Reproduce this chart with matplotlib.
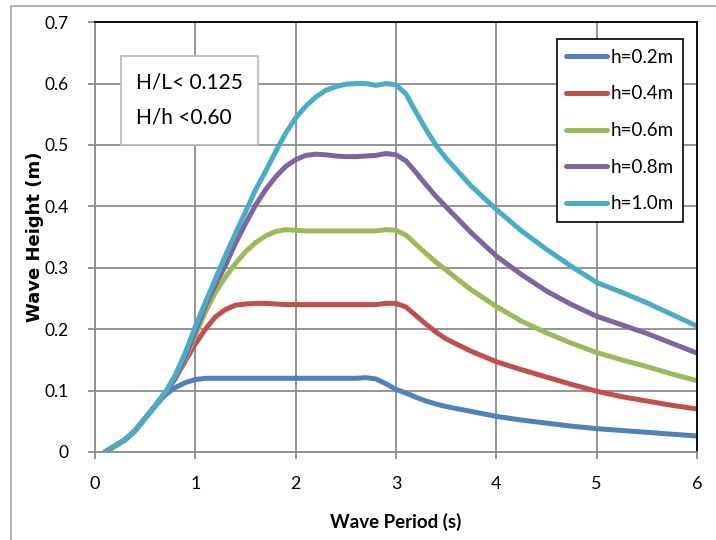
import matplotlib
matplotlib.use("Agg")
import matplotlib.pyplot as plt
from matplotlib.patches import Rectangle

# ── data ───────────────────────────────────────────────────
period = [0.1, 0.2, 0.3, 0.4, 0.5, 0.6, 0.7, 0.8, 0.9, 1.0,
          1.1, 1.2, 1.3, 1.4, 1.5, 1.6, 1.7, 1.8, 1.9, 2.0,
          2.1, 2.2, 2.3, 2.4, 2.5, 2.6, 2.7, 2.8, 2.9, 3.0,
          3.1, 3.2, 3.3, 3.4, 3.5, 3.75, 4.0, 4.25, 4.5, 4.75,
          5.0, 5.25, 5.5, 5.75, 6.0]

h02 = [0.0, 0.01, 0.02, 0.035, 0.055, 0.075, 0.093, 0.105, 0.113, 0.118,
       0.12, 0.12, 0.12, 0.12, 0.12, 0.12, 0.12, 0.12, 0.12, 0.12,
       0.12, 0.12, 0.12, 0.12, 0.12, 0.12, 0.121, 0.119, 0.111, 0.102,
       0.096, 0.089, 0.083, 0.078, 0.074, 0.066, 0.058, 0.052, 0.047, 0.042,
       0.038, 0.035, 0.032, 0.029, 0.026]

h04 = [0.0, 0.01, 0.02, 0.035, 0.055, 0.075, 0.097, 0.12, 0.148, 0.176,
       0.2, 0.22, 0.232, 0.239, 0.241, 0.242, 0.242, 0.241, 0.24, 0.24,
       0.24, 0.24, 0.24, 0.24, 0.24, 0.24, 0.24, 0.24, 0.242, 0.242,
       0.236, 0.222, 0.208, 0.195, 0.184, 0.164, 0.147, 0.134, 0.122, 0.11,
       0.099, 0.09, 0.083, 0.076, 0.07]

h06 = [0.0, 0.01, 0.02, 0.035, 0.055, 0.075, 0.097, 0.12, 0.152, 0.19,
       0.228, 0.26, 0.285, 0.307, 0.326, 0.341, 0.352, 0.359, 0.362, 0.361,
       0.36, 0.36, 0.36, 0.36, 0.36, 0.36, 0.36, 0.36, 0.362, 0.361,
       0.353, 0.338, 0.323, 0.309, 0.296, 0.264, 0.237, 0.213, 0.194, 0.177,
       0.162, 0.15, 0.139, 0.127, 0.116]

h08 = [0.0, 0.01, 0.02, 0.035, 0.055, 0.075, 0.097, 0.12, 0.155, 0.196,
       0.238, 0.272, 0.304, 0.34, 0.372, 0.402, 0.427, 0.448, 0.465, 0.476,
       0.483, 0.485, 0.484, 0.482, 0.481, 0.481, 0.482, 0.483, 0.486, 0.484,
       0.474, 0.455, 0.435, 0.416, 0.399, 0.357, 0.319, 0.289, 0.262, 0.24,
       0.221, 0.207, 0.193, 0.177, 0.161]

h10 = [0.0, 0.01, 0.02, 0.035, 0.055, 0.075, 0.097, 0.125, 0.162, 0.204,
       0.244, 0.282, 0.32, 0.356, 0.391, 0.427, 0.457, 0.489, 0.519, 0.544,
       0.563, 0.578, 0.589, 0.595, 0.599, 0.6, 0.6, 0.597, 0.6, 0.598,
       0.583, 0.553, 0.525, 0.499, 0.478, 0.433, 0.395, 0.36, 0.33, 0.302,
       0.276, 0.26, 0.243, 0.224, 0.205]

labels = ["h=0.2m", "h=0.4m", "h=0.6m", "h=0.8m", "h=1.0m"]
colors = ["#4F81BD", "#C0504D", "#9BBB59", "#8064A2", "#4BACC6"]

x_ticks = [0, 1, 2, 3, 4, 5, 6]
y_ticks = [0, 0.1, 0.2, 0.3, 0.4, 0.5, 0.6, 0.7]

# ── figure ─────────────────────────────────────────────────
narrow = ["Lato", "DejaVu Sans"]

fig = plt.figure(figsize=(7.16, 5.4), dpi=100)
ax = fig.add_axes([0.1327, 0.163, 0.8408, 0.796])

# light outer frame of the chart area
fig.patches.append(Rectangle((0.015, -0.01), 1.0, 0.998, transform=fig.transFigure,
                             fill=False, edgecolor="#a6a6a6", linewidth=1.2))

for ys, lab, c in zip([h02, h04, h06, h08, h10], labels, colors):
    ax.plot(period, ys, color=c, linewidth=3.6, label=lab,
            solid_capstyle="round", solid_joinstyle="round")

ax.set_xlim(0, 6)
ax.set_ylim(0, 0.7)
ax.set_xticks(x_ticks)
ax.set_yticks(y_ticks)
ax.set_xticklabels([str(v) for v in x_ticks], family=narrow, fontsize=13)
ax.set_yticklabels(["0"] + [f"{v:.1f}" for v in y_ticks[1:]], family=narrow, fontsize=12.5)

ax.grid(color="#8c8c8c", linewidth=1.3)
ax.set_axisbelow(True)
ax.tick_params(axis="y", direction="out", length=5, color="#8c8c8c", width=1.3, pad=14)
ax.tick_params(axis="x", direction="out", length=5, color="#8c8c8c", width=1.3, pad=12)

for s in ["left", "bottom"]:
    ax.spines[s].set_color("#8c8c8c")
    ax.spines[s].set_linewidth(1.3)
for s in ["top", "right"]:
    ax.spines[s].set_color("black")
    ax.spines[s].set_linewidth(1.3)

ax.set_xlabel("Wave Period (s)", family=narrow, fontsize=13.5, fontweight="bold")
ax.set_ylabel("Wave Height (m)", family="DejaVu Sans", fontsize=13, fontweight="bold")
ax.xaxis.set_label_coords(0.5, -0.163)
ax.xaxis.label.set_va("center")
ax.yaxis.set_label_coords(-0.1, 0.5)
ax.yaxis.label.set_va("center")

leg = ax.legend(loc="upper left", bbox_to_anchor=(0.767, 0.960), fancybox=False,
                framealpha=1, edgecolor="black", prop={"family": narrow, "size": 13.5},
                handlelength=2.2, handletextpad=0.15, labelspacing=1.05,
                borderpad=0.5, borderaxespad=0)
leg.get_frame().set_linewidth(1.2)

# note box
ax.add_patch(Rectangle((0.043, 0.714), 0.227, 0.207, transform=ax.transAxes,
                       facecolor="white", edgecolor="#b8b8b8", linewidth=1.2, zorder=3))
ax.text(0.068, 0.860, "H/L< 0.125", transform=ax.transAxes, family=narrow,
        fontsize=15, va="center", ha="left", zorder=4)
ax.text(0.068, 0.779, "H/h <0.60", transform=ax.transAxes, family=narrow,
        fontsize=15, va="center", ha="left", zorder=4)

fig.savefig("out.png", dpi=100)
